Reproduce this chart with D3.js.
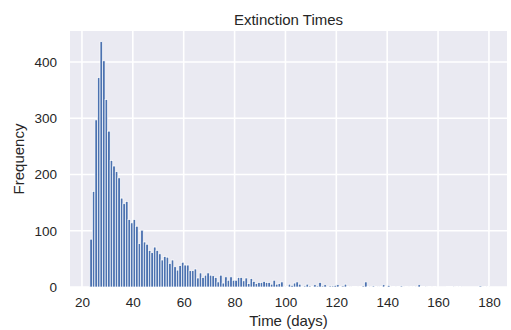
<!DOCTYPE html>
<html>
<head>
<meta charset="utf-8">
<script src="https://cdn.jsdelivr.net/npm/d3@7"></script>
<style>
  body { margin: 0; background: #fff; }
  svg { font-family: "Liberation Sans", Arial, sans-serif; }
</style>
</head>
<body>
<svg id="chart" width="511" height="330"></svg>
<script>
// histogram bins: first bin edge (days) and bin width
var binStart = 23.1;
var binWidth = 1.0;

// counts per bin
var counts = [
  85, 170, 297, 372, 436, 402, 333, 277, 225, 215,
  205, 194, 158, 148, 152, 120, 114, 120, 108, 77,
  101, 80, 76, 65, 61, 71, 65, 59, 48, 54,
  53, 42, 48, 36, 30, 38, 44, 39, 39, 29,
  29, 32, 16, 25, 17, 21, 25, 21, 20, 17,
  9, 21, 7, 18, 12, 18, 12, 12, 17, 17,
  11, 16, 6, 15, 10, 6, 8, 8, 10, 8,
  8, 5, 12, 5, 6, 9, 0, 1, 5, 3,
  7, 9, 5, 0, 2, 5, 2, 1, 4, 2,
  8, 2, 4, 0, 2, 2, 3, 4, 1, 2,
  5, 1, 0, 1, 1, 0, 1, 2, 9, 1,
  0, 2, 1, 0, 1, 4, 1, 3, 0, 1,
  0, 1, 2, 0, 1, 0, 1, 1, 0, 4,
  1, 1, 0, 1, 0, 1, 0, 0, 0, 0,
  1, 1, 1, 0, 1, 1, 0, 0, 0, 0,
  0, 0, 0, 2, 0, 1, 1
];

var xTicks = [20, 40, 60, 80, 100, 120, 140, 160, 180];
var yTicks = [0, 100, 200, 300, 400];

var title = "Extinction Times";
var xLabel = "Time (days)";
var yLabel = "Frequency";

var margin = { left: 70, right: 4, top: 31, bottom: 43 };
var width = 511, height = 330;

var svg = d3.select("#chart");

var x = d3.scaleLinear()
    .domain([15.3, 187.1])
    .range([margin.left, width - margin.right]);

var y = d3.scaleLinear()
    .domain([0, 455])
    .range([height - margin.bottom, margin.top]);

// plot background
svg.append("rect")
    .attr("x", margin.left)
    .attr("y", margin.top)
    .attr("width", width - margin.left - margin.right)
    .attr("height", height - margin.top - margin.bottom)
    .attr("fill", "#eaeaf2");

// grid
svg.append("g").selectAll("line").data(xTicks).join("line")
    .attr("x1", d => x(d)).attr("x2", d => x(d))
    .attr("y1", margin.top).attr("y2", height - margin.bottom)
    .attr("stroke", "#fff").attr("stroke-width", 1.6);

svg.append("g").selectAll("line").data(yTicks).join("line")
    .attr("x1", margin.left).attr("x2", width - margin.right)
    .attr("y1", d => y(d)).attr("y2", d => y(d))
    .attr("stroke", "#fff").attr("stroke-width", 1.6);

// bars
var bins = counts.map((c, i) => ({ x0: binStart + i * binWidth, x1: binStart + (i + 1) * binWidth, n: c }));

svg.append("g").selectAll("rect").data(bins.filter(d => d.n > 0)).join("rect")
    .attr("x", d => x(d.x0))
    .attr("width", d => x(d.x1) - x(d.x0))
    .attr("y", d => y(d.n))
    .attr("height", d => y(0) - y(d.n))
    .attr("fill", "#4c72b0")
    .attr("stroke", "#fff")
    .attr("stroke-width", 0.7);

// axes (no domain line, no tick marks)
var xAxis = svg.append("g")
    .attr("transform", "translate(0," + (height - margin.bottom) + ")")
    .call(d3.axisBottom(x).tickValues(xTicks).tickSize(0).tickPadding(10));

var yAxis = svg.append("g")
    .attr("transform", "translate(" + margin.left + ",0)")
    .call(d3.axisLeft(y).tickValues(yTicks).tickSize(0).tickPadding(13));

[xAxis, yAxis].forEach(function(g) {
    g.select(".domain").remove();
    g.selectAll("text")
        .attr("fill", "#262626")
        .style("font-size", "13.5px")
        .style("font-family", "'Liberation Sans', Arial, sans-serif");
});

// labels
svg.append("text")
    .attr("x", (margin.left + width - margin.right) / 2)
    .attr("y", 25)
    .attr("text-anchor", "middle")
    .attr("fill", "#262626")
    .style("font-size", "15px")
    .text(title);

svg.append("text")
    .attr("x", (margin.left + width - margin.right) / 2)
    .attr("y", 326)
    .attr("text-anchor", "middle")
    .attr("fill", "#262626")
    .style("font-size", "15px")
    .text(xLabel);

svg.append("text")
    .attr("transform", "translate(24," + ((margin.top + height - margin.bottom) / 2) + ") rotate(-90)")
    .attr("text-anchor", "middle")
    .attr("fill", "#262626")
    .style("font-size", "15px")
    .text(yLabel);
</script>
</body>
</html>
